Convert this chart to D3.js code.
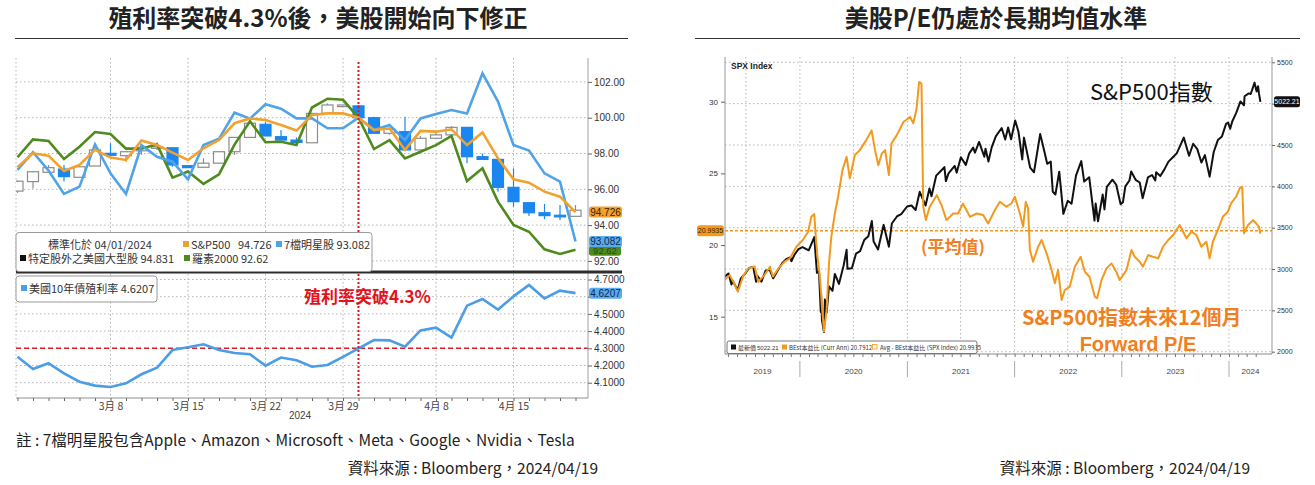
<!DOCTYPE html>
<html><head><meta charset="utf-8">
<script src="https://cdn.jsdelivr.net/npm/d3@7"></script>
<style>
body{margin:0;background:#fff;}
svg{display:block;}
</style></head><body>
<svg id="c" width="1315" height="485"></svg>
<script>
// ---------------- LEFT CHART DATA ----------------
const leftDays = ["2/29","3/1","3/4","3/5","3/6","3/7","3/8","3/11","3/12","3/13","3/14","3/15","3/18","3/19","3/20","3/21","3/22","3/25","3/26","3/27","3/28","3/29","4/1","4/2","4/3","4/4","4/5","4/8","4/9","4/10","4/11","4/12","4/15","4/16","4/17","4/18","4/19"];
const leftTickDays = ["3/8","3/15","3/22","3/29","4/8","4/15"];
const leftTickText = ["3月 8","3月 15","3月 22","3月 29","4月 8","4月 15"];
const spxNorm = [97.23,98.01,97.88,97.02,97.36,98.2,97.77,97.64,98.72,98.47,98.05,97.64,98.29,98.75,99.69,99.96,99.87,99.59,99.28,100.15,100.24,100.24,100.0,99.31,99.41,98.20,99.26,99.22,99.35,98.47,99.18,97.73,96.56,96.37,95.87,95.59,94.726];
const mag7Norm = [97.08,98.07,97.05,95.74,96.15,98.51,96.89,95.74,98.47,97.82,97.54,96.56,98.47,98.82,100.28,99.95,100.75,100.5,99.96,99.96,99.41,99.41,100.0,99.31,99.59,98.75,99.96,100.21,100.43,100.24,102.48,100.9,98.47,98.16,96.89,96.43,93.082];
const r2000Norm = [97.79,98.79,98.70,97.69,98.38,99.20,99.09,98.27,98.27,98.51,96.65,96.99,96.3,96.84,98.5,99.8,98.63,98.66,98.47,100.57,101.06,101.0,100.0,98.25,98.75,97.73,98.10,98.47,98.98,96.46,97.17,95.31,94.01,93.63,92.65,92.39,92.62];
const exMagOpen  = [95.9,96.43,96.95,97.13,96.67,97.30,98.01,97.88,98.15,98.29,98.32,97.32,97.23,97.46,98.1,98.9,99.63,98.94,98.75,98.6,100.24,100.71,100.66,100.0,99.13,99.22,98.2,98.85,99.04,99.46,97.82,97.67,96.11,95.25,94.69,94.55,94.49];
const exMagHigh  = [96.5,97.0,97.36,97.36,97.3,98.47,98.57,98.1,98.41,98.61,98.32,97.32,97.74,98.1,98.9,99.78,99.78,99.31,98.9,100.24,100.8,100.71,100.71,100.06,99.4,100.06,98.98,99.17,99.53,99.46,98.0,97.67,97.17,95.25,95.18,95.12,95.12];
const exMagLow   = [95.8,96.04,96.95,96.43,96.67,97.3,97.9,97.54,97.92,98.2,97.26,97.21,97.23,97.46,97.92,98.9,98.98,98.75,98.62,98.6,100.24,100.71,100.0,99.13,99.05,98.2,98.2,98.85,99.04,97.45,97.67,95.87,95.03,94.51,94.33,94.29,94.49];
const exMagClose = [96.45,96.98,97.21,96.71,97.26,98.2,97.9,98.1,98.34,98.38,97.36,97.21,97.46,98.1,98.9,99.69,98.98,98.75,98.62,100.24,100.71,100.71,100.0,99.13,99.35,98.2,98.85,99.04,99.46,97.82,97.67,96.11,95.31,94.69,94.53,94.53,94.831];
const us10y = [4.251,4.180,4.213,4.154,4.106,4.083,4.075,4.096,4.149,4.187,4.290,4.306,4.323,4.290,4.273,4.265,4.199,4.246,4.230,4.193,4.203,4.25,4.300,4.348,4.346,4.309,4.404,4.420,4.362,4.548,4.587,4.525,4.602,4.668,4.590,4.635,4.6207];
const upperTicks = [92,94,96,98,100,102];
const lowerTicks = [4.1,4.2,4.3,4.4,4.5,4.6,4.7];

// ---------------- RIGHT CHART DATA ----------------
const spxDates = ["2019-04-19","2019-05-03","2019-05-13","2019-05-17","2019-06-03","2019-06-14","2019-06-28","2019-07-12","2019-07-26","2019-08-05","2019-08-09","2019-08-23","2019-09-06","2019-09-20","2019-10-02","2019-10-18","2019-11-01","2019-11-15","2019-11-29","2019-12-03","2019-12-13","2019-12-27","2020-01-10","2020-01-31","2020-02-19","2020-02-28","2020-03-06","2020-03-12","2020-03-13","2020-03-16","2020-03-23","2020-03-26","2020-04-01","2020-04-09","2020-04-21","2020-04-29","2020-05-13","2020-05-29","2020-06-08","2020-06-11","2020-06-26","2020-07-10","2020-07-24","2020-08-07","2020-08-21","2020-09-02","2020-09-08","2020-09-23","2020-10-12","2020-10-30","2020-11-09","2020-11-27","2020-12-11","2020-12-31","2021-01-15","2021-01-29","2021-02-12","2021-03-04","2021-03-17","2021-03-24","2021-04-09","2021-04-23","2021-05-07","2021-05-12","2021-05-21","2021-06-11","2021-06-18","2021-07-02","2021-07-19","2021-07-30","2021-08-13","2021-08-19","2021-09-02","2021-09-20","2021-09-24","2021-10-04","2021-10-15","2021-10-29","2021-11-18","2021-11-30","2021-12-10","2021-12-20","2022-01-03","2022-01-14","2022-01-27","2022-02-02","2022-02-23","2022-03-08","2022-03-29","2022-04-08","2022-04-22","2022-05-04","2022-05-11","2022-05-20","2022-06-02","2022-06-16","2022-07-01","2022-07-14","2022-07-29","2022-08-16","2022-08-26","2022-09-12","2022-09-30","2022-10-04","2022-10-12","2022-10-28","2022-11-03","2022-11-11","2022-11-30","2022-12-13","2022-12-28","2023-01-05","2023-01-13","2023-01-27","2023-02-02","2023-02-17","2023-03-03","2023-03-13","2023-03-31","2023-04-14","2023-04-25","2023-04-28","2023-05-12","2023-05-26","2023-06-09","2023-06-23","2023-07-07","2023-07-31","2023-08-18","2023-09-01","2023-09-15","2023-09-29","2023-10-11","2023-10-27","2023-11-10","2023-11-24","2023-12-08","2023-12-22","2023-12-29","2024-01-05","2024-01-12","2024-01-26","2024-02-09","2024-02-21","2024-02-23","2024-03-08","2024-03-15","2024-03-28","2024-04-04","2024-04-09","2024-04-12","2024-04-17"];
const spxValues = [2905,2946,2812,2860,2744,2887,2942,3014,3026,2845,2919,2847,2979,2992,2888,2986,3067,3120,3141,3093,3169,3240,3265,3226,3386,2954,2972,2481,2711,2386,2237,2630,2471,2790,2737,2940,2820,3044,3232,3002,3009,3185,3216,3351,3397,3580,3332,3237,3534,3270,3550,3638,3663,3756,3768,3714,3934,3768,3974,3881,4129,4180,4233,4063,4156,4247,4166,4352,4259,4395,4468,4406,4537,4358,4455,4300,4471,4605,4705,4567,4712,4568,4796,4663,4326,4589,4225,4170,4632,4488,4272,4300,3935,3901,4177,3667,3825,3790,4130,4305,4058,4110,3586,3791,3577,3901,3720,3993,4080,4019,3783,3808,3999,4070,4179,4079,4046,3855,4109,4137,4071,4169,4124,4205,4299,4348,4399,4589,4370,4515,4450,4288,4377,4117,4415,4559,4604,4755,4770,4697,4784,4891,5027,4981,5089,5124,5117,5254,5147,5210,5123,5022.21];
const peDates = ["2019-04-19","2019-05-07","2019-05-20","2019-06-04","2019-06-21","2019-07-09","2019-07-31","2019-08-12","2019-09-02","2019-09-21","2019-10-01","2019-10-20","2019-11-10","2019-11-28","2019-12-20","2020-01-11","2020-01-29","2020-02-09","2020-02-19","2020-02-24","2020-03-01","2020-03-09","2020-03-17","2020-03-23","2020-04-01","2020-04-09","2020-04-17","2020-04-29","2020-05-10","2020-05-25","2020-06-08","2020-06-19","2020-07-06","2020-07-23","2020-08-14","2020-09-01","2020-09-13","2020-09-24","2020-10-06","2020-10-17","2020-10-30","2020-11-08","2020-11-26","2020-12-19","2021-01-04","2021-01-10","2021-01-21","2021-02-01","2021-02-10","2021-02-18","2021-02-24","2021-03-05","2021-03-18","2021-04-11","2021-04-27","2021-05-14","2021-06-06","2021-06-23","2021-07-09","2021-08-02","2021-08-25","2021-09-16","2021-10-03","2021-10-26","2021-11-12","2021-12-04","2021-12-21","2022-01-02","2022-01-19","2022-01-30","2022-02-08","2022-02-16","2022-02-22","2022-03-05","2022-03-22","2022-04-03","2022-04-20","2022-05-07","2022-05-18","2022-05-29","2022-06-10","2022-06-21","2022-07-08","2022-07-25","2022-08-14","2022-08-28","2022-09-13","2022-10-01","2022-10-09","2022-10-24","2022-11-10","2022-11-27","2022-12-13","2022-12-25","2023-01-02","2023-01-17","2023-02-03","2023-02-14","2023-03-03","2023-03-14","2023-04-01","2023-04-17","2023-05-05","2023-05-21","2023-06-08","2023-06-25","2023-07-17","2023-08-09","2023-08-26","2023-09-12","2023-09-29","2023-10-16","2023-10-27","2023-11-07","2023-11-24","2023-12-11","2023-12-28","2024-01-08","2024-01-25","2024-02-08","2024-02-15","2024-02-21","2024-03-06","2024-03-23","2024-04-03","2024-04-12","2024-04-17"];
const peValues = [17.56,17.9,17.4,16.75,17.8,18.37,18.5,17.44,17.9,18.49,17.8,18.37,18.84,19.07,19.88,20.35,20.93,21.97,22.16,20.58,19.18,17.8,15.47,13.96,15.5,18.7,20.58,22.2,23.37,25.23,26.15,24.65,26.27,26.62,27.32,28.0,26.6,25.57,26.39,26.62,24.88,27.09,27.67,28.6,28.83,28.94,28.5,29.5,31.38,31.27,22.67,21.74,22.67,23.48,22.79,21.74,22.2,22.2,22.9,21.97,22.2,22.1,21.5,22.44,23.02,22.67,22.9,23.37,22.2,21.28,23.02,22.56,19.65,18.84,19.88,20.35,19.42,18.26,17.33,18.26,16.17,16.86,17.1,18.49,19.18,18.14,17.79,16.4,16.29,17.56,18.37,18.72,18.14,17.56,17.8,18.26,19.65,19.18,18.84,18.49,19.3,19.18,19.07,19.88,20.35,20.7,21.4,20.47,20.93,20.7,19.88,20.23,19.07,20.23,21.05,21.97,22.32,22.9,23.37,24.02,24.06,20.81,21.4,21.74,21.5,21.28,20.7912];
const peAvg = 20.9935;
const peTicks = [15,20,25,30];
const spxTicks = [2000,2500,3000,3500,4000,4500,5000,5500];
const yearLabels = ["2019","2020","2021","2022","2023","2024"];

// ---------------- DRAWING ----------------
const svg = d3.select('#c');
const CJK = '"Noto Sans CJK TC","Noto Sans CJK SC",sans-serif';
const LAT = '"Liberation Sans","DejaVu Sans","Noto Sans CJK TC",sans-serif';
svg.append('rect').attr('width',1315).attr('height',485).attr('fill','#fff');

function txt(g, x, y, s, o={}) {
  return g.append('text').attr('x',x).attr('y',y).text(s)
    .attr('font-family', o.ff||CJK).attr('font-size', o.fs||12)
    .attr('font-weight', o.fw||400).attr('fill', o.fill||'#222')
    .attr('text-anchor', o.anchor||'start');
}
function tag(g, x, yc, w, h, fill, color, s, fs, stroke) {
  g.append('rect').attr('x',x).attr('y',yc-h/2).attr('width',w).attr('height',h).attr('rx',2.5)
    .attr('fill',fill).attr('stroke',stroke||'none');
  txt(g, x+w/2, yc+fs*0.36, s, {ff:LAT, fs:fs, fill:color, anchor:'middle'});
}

// titles
txt(svg, 318, 27, '殖利率突破4.3%後，美股開始向下修正', {fs:24, fw:700, anchor:'middle'});
svg.append('line').attr('x1',15).attr('x2',628).attr('y1',38.5).attr('y2',38.5).attr('stroke','#333');
txt(svg, 996, 27, '美股P/E仍處於長期均值水準', {fs:24, fw:700, anchor:'middle'});
svg.append('line').attr('x1',695).attr('x2',1300).attr('y1',38.5).attr('y2',38.5).attr('stroke','#333');

// ===== LEFT CHART =====
const Lx0=16, Lx1=588, Ltop=58, Lmid=272, Lbot=398;
const x = d3.scalePoint().domain(leftDays).range([17.5,575.5]);
const yU = d3.scaleLinear().domain([92,102]).range([260.9,81.9]);
const yL = d3.scaleLinear().domain([4.1,4.7]).range([382.7,279.5]);
const defs = svg.append('defs');
defs.append('clipPath').attr('id','clipU').append('rect').attr('x',Lx0).attr('y',Ltop).attr('width',Lx1-Lx0).attr('height',Lmid-Ltop);
defs.append('clipPath').attr('id','clipL').append('rect').attr('x',Lx0).attr('y',Lmid).attr('width',Lx1-Lx0).attr('height',Lbot-Lmid);

const gL = svg.append('g');
const grid = gL.append('g').attr('stroke','#b5b5b5').attr('stroke-dasharray','1.5,2.5').attr('stroke-width',1);
grid.selectAll('line.hu').data(upperTicks).join('line').attr('x1',Lx0).attr('x2',Lx1).attr('y1',d=>yU(d)).attr('y2',d=>yU(d));
grid.selectAll('line.hl').data(lowerTicks).join('line').attr('x1',Lx0).attr('x2',Lx1).attr('y1',d=>yL(d)).attr('y2',d=>yL(d));
grid.selectAll('line.v').data(leftTickDays).join('line').attr('x1',d=>x(d)).attr('x2',d=>x(d)).attr('y1',Ltop).attr('y2',Lbot);
grid.append('line').attr('x1',Lx0).attr('x2',Lx0).attr('y1',Ltop).attr('y2',Lbot);

// candles
const candles = leftDays.map((d,i)=>({d, o:exMagOpen[i], h:exMagHigh[i], l:exMagLow[i], c:exMagClose[i]}));
const cg = gL.append('g').attr('clip-path','url(#clipU)');
const down = d => d.c < d.o;
cg.selectAll('line.wick').data(candles).join('line')
  .attr('x1',d=>x(d.d)).attr('x2',d=>x(d.d)).attr('y1',d=>yU(d.h)).attr('y2',d=>yU(d.l))
  .attr('stroke',d=>down(d)?'#1a86f0':'#8c8c8c').attr('stroke-width',1.2);
cg.selectAll('rect.body').data(candles).join('rect')
  .attr('x',d=>x(d.d)-5.5).attr('width',11)
  .attr('y',d=>yU(Math.max(d.o,d.c))).attr('height',d=>Math.max(1.6, Math.abs(yU(d.o)-yU(d.c))))
  .attr('fill',d=>down(d)?'#1a86f0':'#fff').attr('stroke',d=>down(d)?'#1a86f0':'#8c8c8c').attr('stroke-width',1.2);

const lineU = d3.line().x((v,i)=>x(leftDays[i])).y(v=>yU(v));
cg.append('path').datum(r2000Norm).attr('d',lineU).attr('fill','none').attr('stroke','#4e8a1d').attr('stroke-width',2.6);
cg.append('path').datum(mag7Norm).attr('d',lineU).attr('fill','none').attr('stroke','#4fa3e6').attr('stroke-width',2.6);
cg.append('path').datum(spxNorm).attr('d',lineU).attr('fill','none').attr('stroke','#f3a12e').attr('stroke-width',2.6);

const lg = gL.append('g').attr('clip-path','url(#clipL)');
const lineL = d3.line().x((v,i)=>x(leftDays[i])).y(v=>yL(v));
lg.append('line').attr('x1',Lx0).attr('x2',Lx1).attr('y1',yL(4.3)).attr('y2',yL(4.3))
  .attr('stroke','#d9202a').attr('stroke-width',1.6).attr('stroke-dasharray','5,3');
lg.append('path').datum(us10y).attr('d',lineL).attr('fill','none').attr('stroke','#4a9de6').attr('stroke-width',2.6);

// red vertical dotted line at 4/1
gL.append('line').attr('x1',x('4/1')).attr('x2',x('4/1')).attr('y1',62).attr('y2',Lbot)
  .attr('stroke','#e0141e').attr('stroke-width',2).attr('stroke-dasharray','2,2');

// axes frame
gL.append('line').attr('x1',Lx1).attr('x2',Lx1).attr('y1',Ltop).attr('y2',Lbot).attr('stroke','#a0a0a0');
gL.append('line').attr('x1',Lx0).attr('x2',Lx1).attr('y1',Lbot).attr('y2',Lbot).attr('stroke','#909090');
gL.append('line').attr('x1',Lx0).attr('x2',622).attr('y1',Lmid).attr('y2',Lmid).attr('stroke','#2e2e2e').attr('stroke-width',3);

function styleAxis(g, fs){
  g.select('.domain').remove();
  g.selectAll('text').attr('font-size',fs).attr('font-family',LAT).attr('fill','#333');
  g.selectAll('line').attr('stroke','#666');
}
gL.append('g').attr('transform',`translate(${Lx1},0)`)
  .call(d3.axisRight(yU).tickValues(upperTicks).tickFormat(d3.format('.2f')).tickSize(4).tickPadding(2))
  .call(g=>styleAxis(g,10));
// the 4.6000 label sits under the 4.6207 value tag in the reference
gL.append('g').attr('transform',`translate(${Lx1},0)`)
  .call(d3.axisRight(yL).tickValues(lowerTicks).tickFormat(d=>Math.abs(d-4.6)<1e-9?'':d3.format('.4f')(d)).tickSize(4).tickPadding(2))
  .call(g=>styleAxis(g,10));
const tickMap = {}; leftTickDays.forEach((d,i)=>tickMap[d]=leftTickText[i]);
gL.append('g').attr('transform',`translate(0,${Lbot})`)
  .call(d3.axisBottom(x).tickValues(leftDays).tickSize(3).tickPadding(2).tickFormat(d=>tickMap[d]||''))
  .call(g=>{styleAxis(g,10.5); g.selectAll('text').attr('font-family',CJK).attr('fill','#444');});
txt(gL, 300, 419, '2024', {ff:LAT, fs:10, fill:'#444', anchor:'middle'});

// upper legend
const leg = gL.append('g');
leg.append('rect').attr('x',Lx0).attr('y',232.5).attr('width',356).attr('height',39).attr('rx',3)
  .attr('fill','#fff').attr('stroke','#9a9a9a');
const lf = {fs:11, fill:'#333'};
txt(leg, 48, 249, '標準化於 04/01/2024', lf);
leg.append('rect').attr('x',183).attr('y',241).attr('width',6).attr('height',6).attr('fill','#f3a12e');
txt(leg, 191, 249, 'S&P500', lf);
txt(leg, 238, 249, '94.726', lf);
leg.append('rect').attr('x',276).attr('y',241).attr('width',6).attr('height',6).attr('fill','#4fa3e6');
txt(leg, 284, 249, '7檔明星股 93.082', lf);
leg.append('rect').attr('x',20).attr('y',255).attr('width',6).attr('height',6).attr('fill','#111');
txt(leg, 28, 263, '特定股外之美國大型股 94.831', lf);
leg.append('rect').attr('x',184).attr('y',255).attr('width',6).attr('height',6).attr('fill','#4e8a1d');
txt(leg, 192, 263, '羅素2000 92.62', lf);

// lower legend
leg.append('rect').attr('x',Lx0).attr('y',276).attr('width',141).attr('height',26).attr('rx',3)
  .attr('fill','#fff').attr('stroke','#9a9a9a');
leg.append('rect').attr('x',21).attr('y',285).attr('width',6).attr('height',6).attr('fill','#4a9de6');
txt(leg, 29, 293, '美國10年債殖利率 4.6207', lf);

// red annotation
txt(gL, 304, 303, '殖利率突破4.3%', {fs:17, fw:700, fill:'#e0141e'});

// value tags
tag(gL, 589, yU(92.62)+1, 32, 10, '#4e8a1d', '#2a4a10', '92.62', 9.5);
tag(gL, 589, yU(93.082), 33, 11, '#5aaaf0', '#0b2a4a', '93.082', 10);
tag(gL, 589, yU(94.726), 33, 11, '#f3a12e', '#3a2206', '94.726', 10);
tag(gL, 589, yL(4.6207), 33, 11, '#5aaaf0', '#0b2a4a', '4.6207', 10);

// notes
txt(svg, 16, 446, '註 : 7檔明星股包含Apple、Amazon、Microsoft、Meta、Google、Nvidia、Tesla', {fs:15.5, fill:'#222'});
txt(svg, 598, 474, '資料來源 : Bloomberg，2024/04/19', {fs:15.5, fill:'#222', anchor:'end'});
txt(svg, 1250, 474, '資料來源 : Bloomberg，2024/04/19', {fs:15.5, fill:'#222', anchor:'end'});

// ===== RIGHT CHART =====
const Rx0=725, Rx1=1272, Rtop=57, Rbot=354;
const parse = d3.timeParse('%Y-%m-%d');
const xt = d3.scaleTime().domain([new Date(2019,0,1), new Date(2024,0,1)]).range([692.7,1229]);
const yPE = d3.scaleLinear().domain([15,30]).range([316.7,101.7]);
const ySPX = d3.scaleLinear().domain([2000,5500]).range([351.7,62.3]);
defs.append('clipPath').attr('id','clipR').append('rect').attr('x',Rx0).attr('y',Rtop).attr('width',Rx1-Rx0).attr('height',Rbot-Rtop);
const gR = svg.append('g');

const rgrid = gR.append('g').attr('stroke','#b5b5b5').attr('stroke-dasharray','1.5,2.5').attr('stroke-width',1);
rgrid.selectAll('line.h').data(spxTicks).join('line').attr('x1',Rx0).attr('x2',Rx1).attr('y1',d=>ySPX(d)).attr('y2',d=>ySPX(d));
const halfYears = d3.timeMonth.every(6).range(new Date(2019,6,1), new Date(2024,1,1));
rgrid.selectAll('line.v').data(halfYears).join('line').attr('x1',d=>xt(d)).attr('x2',d=>xt(d)).attr('y1',Rtop).attr('y2',Rbot);

const spxData = spxDates.map((d,i)=>({t:parse(d), v:spxValues[i]}));
const peData = peDates.map((d,i)=>({t:parse(d), v:peValues[i]}));
const rc = gR.append('g').attr('clip-path','url(#clipR)');
rc.append('line').attr('x1',Rx0).attr('x2',Rx1).attr('y1',yPE(peAvg)).attr('y2',yPE(peAvg))
  .attr('stroke','#f0961e').attr('stroke-width',1.6).attr('stroke-dasharray','3,2');
rc.append('path').datum(spxData).attr('d',d3.line().x(d=>xt(d.t)).y(d=>ySPX(d.v)))
  .attr('fill','none').attr('stroke','#111').attr('stroke-width',2).attr('stroke-linejoin','round');
rc.append('path').datum(peData).attr('d',d3.line().x(d=>xt(d.t)).y(d=>yPE(d.v)))
  .attr('fill','none').attr('stroke','#f39a1e').attr('stroke-width',2).attr('stroke-linejoin','round');

// frame
gR.append('line').attr('x1',Rx0).attr('x2',Rx0).attr('y1',Rtop).attr('y2',Rbot).attr('stroke','#999');
gR.append('line').attr('x1',Rx1).attr('x2',Rx1).attr('y1',Rtop).attr('y2',Rbot).attr('stroke','#999');
gR.append('line').attr('x1',Rx0).attr('x2',Rx1).attr('y1',Rbot).attr('y2',Rbot).attr('stroke','#888');

gR.append('g').attr('transform',`translate(${Rx0},0)`)
  .call(d3.axisLeft(yPE).tickValues(peTicks).tickSize(4).tickPadding(3))
  .call(g=>styleAxis(g,8));
// the 5000 label is covered by the 5022.21 value tag in the reference
gR.append('g').attr('transform',`translate(${Rx1},0)`)
  .call(d3.axisRight(ySPX).tickValues(spxTicks).tickSize(3).tickPadding(2).tickFormat(d=>d===5000?'':d3.format('d')(d)))
  .call(g=>styleAxis(g,7));
const months = d3.timeMonth.range(new Date(2019,4,1), new Date(2024,4,1));
gR.append('g').attr('transform',`translate(0,${Rbot})`)
  .call(d3.axisBottom(xt).tickValues(months).tickSize(3).tickFormat(''))
  .call(g=>{g.select('.domain').remove(); g.selectAll('line').attr('stroke','#777');});
const yearStarts = [2020,2021,2022,2023,2024].map(y=>new Date(y,0,1));
gR.selectAll('line.sep').data(yearStarts).join('line')
  .attr('x1',d=>xt(d)).attr('x2',d=>xt(d)).attr('y1',361).attr('y2',377).attr('stroke','#aaa');
const yearCenters = yearLabels.map((y,i)=>{
  const a = Math.max(Rx0, xt(new Date(+y,0,1))); const b = Math.min(Rx1, xt(new Date(+y+1,0,1)));
  return (a+b)/2;
});
gR.selectAll('text.yr').data(yearLabels).join('text')
  .attr('x',(d,i)=>yearCenters[i]).attr('y',374).attr('text-anchor','middle')
  .attr('font-family',LAT).attr('font-size',8).attr('fill','#444').text(d=>d);

txt(gR, 731, 69, 'SPX Index', {ff:LAT, fs:8.5, fw:700, fill:'#222'});
tag(gR, 697, yPE(peAvg), 27, 11, '#f39a1e', '#3a2206', '20.9935', 7);
tag(gR, 1274, ySPX(5022.21), 26, 11, '#111', '#fff', '5022.21', 7);

// right legend
const rl = gR.append('g');
rl.append('rect').attr('x',727).attr('y',341).attr('width',250).attr('height',12.5).attr('rx',2)
  .attr('fill','#fff').attr('stroke','#777');
const rf = {fs:6, fill:'#333'};
rl.append('rect').attr('x',731).attr('y',344.5).attr('width',5).attr('height',5).attr('fill','#111');
txt(rl, 738, 349.5, '最新價', rf); txt(rl, 757, 349.5, '5022.21', {ff:LAT, fs:6, fill:'#333'});
rl.append('rect').attr('x',782).attr('y',344.5).attr('width',5).attr('height',5).attr('fill','#f39a1e');
txt(rl, 789, 349.5, 'BEst本益比 (Curr Ann) 20.7912', rf);
rl.append('rect').attr('x',872.5).attr('y',344.5).attr('width',4.5).attr('height',4.5).attr('fill','#fff').attr('stroke','#f39a1e').attr('stroke-width',0.8);
txt(rl, 880, 349.5, 'Avg - BEst本益比 (SPX Index) 20.9935', rf);

// annotations
txt(gR, 1090, 100, 'S&P500指數', {fs:22, fill:'#111'});
txt(gR, 921, 253, '(平均值)', {fs:17, fw:700, fill:'#f07f1e'});
txt(gR, 1022, 325, 'S&P500指數未來12個月', {fs:20, fw:700, fill:'#f07f1e'});
txt(gR, 1138, 350.5, 'Forward P/E', {ff:'"Liberation Sans","DejaVu Sans",sans-serif', fs:20, fw:700, fill:'#f07f1e', anchor:'middle'});
</script>
</body></html>
